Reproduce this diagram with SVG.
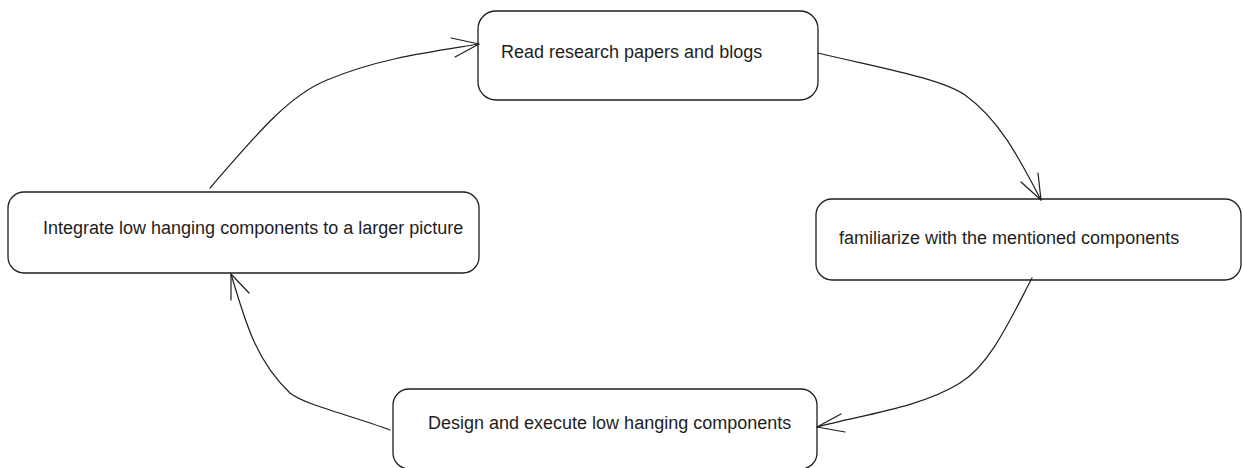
<svg xmlns="http://www.w3.org/2000/svg" width="1243" height="468" viewBox="0 0 1243 468">
  <style>
    .box { fill: #ffffff; stroke: #1e1e1e; stroke-width: 1.3; }
    .label { font-family: "Liberation Sans", Arial, sans-serif; font-size: 18px; fill: #1e1e1e; }
    .edge { fill: none; stroke: #1e1e1e; stroke-width: 1.2; stroke-linecap: round; stroke-linejoin: round; }
  </style>
  <rect width="1243" height="468" fill="#ffffff"/>

  <g id="read">
    <rect class="box" x="478" y="11" width="340" height="89" rx="18"/>
    <text class="label" x="501" y="58">Read research papers and blogs</text>
  </g>

  <g id="familiarize">
    <rect class="box" x="816" y="199" width="425" height="81" rx="16"/>
    <text class="label" x="839" y="244">familiarize with the mentioned components</text>
  </g>

  <g id="design">
    <rect class="box" x="393" y="389" width="424" height="80" rx="16"/>
    <text class="label" x="428" y="429">Design and execute low hanging components</text>
  </g>

  <g id="integrate">
    <rect class="box" x="8" y="192" width="471" height="81" rx="16"/>
    <text class="label" x="43" y="234">Integrate low hanging components to a larger picture</text>
  </g>

  <g id="connectors">
    <!-- integrate -> read -->
    <path class="edge" d="M210,188 C260,130 290,95 327,80 C380,58 430,52 479,44"/>
    <path class="edge" d="M451,38 L479,44 L455,57"/>
    <!-- read -> familiarize -->
    <path class="edge" d="M818,53 C880,68 940,78 965,95 C1000,120 1020,160 1041,200"/>
    <path class="edge" d="M1038,173 L1041,200 L1021,182"/>
    <!-- familiarize -> design -->
    <path class="edge" d="M1032,278 C1010,320 990,365 960,383 C920,408 860,415 817,427"/>
    <path class="edge" d="M841,414 L817,427 L845,432"/>
    <!-- design -> integrate -->
    <path class="edge" d="M390,430 C350,415 305,405 290,393 C255,360 245,320 231,274"/>
    <path class="edge" d="M231,300 L231,274 L249,293"/>
  </g>
</svg>
